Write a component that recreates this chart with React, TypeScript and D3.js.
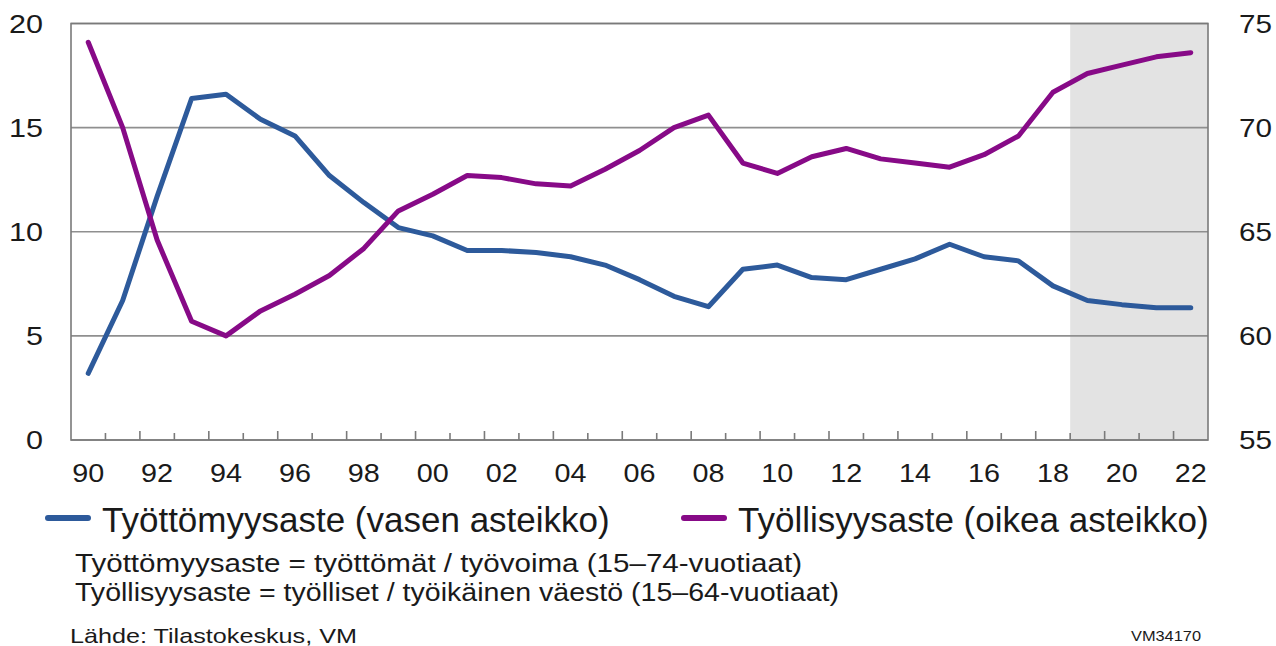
import { useEffect, useRef } from "react";
import * as d3 from "d3";

// vuodet ja sarjat luettu kuvasta
const years = [
  1990, 1991, 1992, 1993, 1994, 1995, 1996, 1997, 1998, 1999, 2000, 2001, 2002,
  2003, 2004, 2005, 2006, 2007, 2008, 2009, 2010, 2011, 2012, 2013, 2014, 2015,
  2016, 2017, 2018, 2019, 2020, 2021, 2022,
];
const unemployment = [
  3.2, 6.7, 11.7, 16.4, 16.6, 15.4, 14.6, 12.7, 11.4, 10.2, 9.8, 9.1, 9.1, 9.0,
  8.8, 8.4, 7.7, 6.9, 6.4, 8.2, 8.4, 7.8, 7.7, 8.2, 8.7, 9.4, 8.8, 8.6, 7.4, 6.7,
  6.5, 6.35, 6.35,
];
const employment = [
  74.1, 70.0, 64.6, 60.7, 60.0, 61.2, 62.0, 62.9, 64.2, 66.0, 66.8, 67.7, 67.6,
  67.3, 67.2, 68.0, 68.9, 70.0, 70.6, 68.3, 67.8, 68.6, 69.0, 68.5, 68.3, 68.1,
  68.7, 69.6, 71.7, 72.6, 73.0, 73.4, 73.6,
];
const forecastFrom = 2019;
const leftTicks = [0, 5, 10, 15, 20];
const rightTicks = [55, 60, 65, 70, 75];
const xLabelYears = years.filter((y) => y % 2 === 0);

const seriesNames = [
  "Työttömyysaste (vasen asteikko)",
  "Työllisyysaste (oikea asteikko)",
];
const notes = [
  "Työttömyysaste = työttömät / työvoima (15–74-vuotiaat)",
  "Työllisyysaste = työlliset / työikäinen väestö (15–64-vuotiaat)",
];
const source = "Lähde: Tilastokeskus, VM";
const code = "VM34170";

const BLUE = "#2d5a9b";
const PURPLE = "#870a87";
const GRID = "#8f8f8f";
const FONT = "'Liberation Sans', Arial, sans-serif";

const W = 1276;
const H = 646;
const plot = { left: 71, right: 1208, top: 23.5, bottom: 440 };

export default function App() {
  const ref = useRef<SVGSVGElement>(null);

  useEffect(() => {
    const svg = d3.select(ref.current);
    svg.selectAll("*").remove();

    const x = d3
      .scaleBand<number>()
      .domain(years)
      .range([plot.left, plot.right])
      .padding(0);
    const cx = (y: number) => (x(y) as number) + x.bandwidth() / 2;
    const yL = d3.scaleLinear().domain([0, 20]).range([plot.bottom, plot.top]);
    const yR = d3.scaleLinear().domain([55, 75]).range([plot.bottom, plot.top]);

    // ennusteen tausta
    svg
      .append("rect")
      .attr("x", x(forecastFrom) as number)
      .attr("y", plot.top)
      .attr("width", plot.right - (x(forecastFrom) as number))
      .attr("height", plot.bottom - plot.top)
      .attr("fill", "#e3e3e3");

    // vaakaviivat
    svg
      .append("g")
      .selectAll("line")
      .data(leftTicks)
      .join("line")
      .attr("x1", plot.left)
      .attr("x2", plot.right)
      .attr("y1", (d) => yL(d))
      .attr("y2", (d) => yL(d))
      .attr("stroke", GRID)
      .attr("stroke-width", 1.6);

    // reunat
    svg
      .append("rect")
      .attr("x", plot.left)
      .attr("y", plot.top)
      .attr("width", plot.right - plot.left)
      .attr("height", plot.bottom - plot.top)
      .attr("fill", "none")
      .attr("stroke", "#7a7a7a")
      .attr("stroke-width", 1.6);

    // x-akselin pykälät vuosien välissä
    svg
      .append("g")
      .selectAll("line")
      .data(years.slice(1))
      .join("line")
      .attr("x1", (d) => x(d) as number)
      .attr("x2", (d) => x(d) as number)
      .attr("y1", plot.bottom)
      .attr("y2", (d) => plot.bottom - (d % 2 === 0 ? 9 : 7))
      .attr("stroke", "#7a7a7a")
      .attr("stroke-width", 1.6);

    const tickText = svg
      .append("g")
      .attr("font-family", FONT)
      .attr("font-size", 25)
      .attr("fill", "#1a1a1a");

    tickText
      .selectAll("text.l")
      .data(leftTicks)
      .join("text")
      .attr("class", "l")
      .attr("x", 43)
      .attr("y", (d) => yL(d))
      .attr("dy", "0.36em")
      .attr("text-anchor", "end")
      .attr("textLength", (d) => String(d).length * 17)
      .attr("lengthAdjust", "spacingAndGlyphs")
      .text((d) => d);

    tickText
      .selectAll("text.r")
      .data(rightTicks)
      .join("text")
      .attr("class", "r")
      .attr("x", 1239)
      .attr("y", (d) => yR(d))
      .attr("dy", "0.36em")
      .attr("textLength", 33)
      .attr("lengthAdjust", "spacingAndGlyphs")
      .text((d) => d);

    tickText
      .selectAll("text.x")
      .data(xLabelYears)
      .join("text")
      .attr("class", "x")
      .attr("x", (d) => cx(d) - 16)
      .attr("y", 482)
      .attr("textLength", 32)
      .attr("lengthAdjust", "spacingAndGlyphs")
      .text((d) => String(d).slice(2));

    const line = d3
      .line<[number, number]>()
      .x((d) => d[0])
      .y((d) => d[1]);

    svg
      .append("path")
      .attr(
        "d",
        line(years.map((yr, i) => [cx(yr), yL(unemployment[i])]))
      )
      .attr("fill", "none")
      .attr("stroke", BLUE)
      .attr("stroke-width", 5)
      .attr("stroke-linejoin", "round")
      .attr("stroke-linecap", "round");

    svg
      .append("path")
      .attr("d", line(years.map((yr, i) => [cx(yr), yR(employment[i])])))
      .attr("fill", "none")
      .attr("stroke", PURPLE)
      .attr("stroke-width", 5)
      .attr("stroke-linejoin", "round")
      .attr("stroke-linecap", "round");

    // selite
    const legend = [
      { name: seriesNames[0], color: BLUE, x: 48 },
      { name: seriesNames[1], color: PURPLE, x: 684 },
    ];
    const lg = svg.append("g").attr("font-family", FONT);
    legend.forEach((l) => {
      lg.append("line")
        .attr("x1", l.x)
        .attr("x2", l.x + 40)
        .attr("y1", 518)
        .attr("y2", 518)
        .attr("stroke", l.color)
        .attr("stroke-width", 6)
        .attr("stroke-linecap", "round");
      lg.append("text")
        .attr("x", l.x + 54)
        .attr("y", 532)
        .attr("font-size", 35)
        .attr("fill", "#1a1a1a")
        .text(l.name);
    });

    const nt = svg
      .append("g")
      .attr("font-family", FONT)
      .attr("fill", "#1a1a1a");
    const noteWidths = [727, 764];
    nt.selectAll("text")
      .data(notes)
      .join("text")
      .attr("x", 75)
      .attr("y", (_, i) => 572 + i * 29)
      .attr("font-size", 25)
      .attr("textLength", (_, i) => noteWidths[i])
      .attr("lengthAdjust", "spacingAndGlyphs")
      .text((d) => d);

    nt.append("text")
      .attr("x", 70)
      .attr("y", 643)
      .attr("font-size", 21)
      .attr("textLength", 287)
      .attr("lengthAdjust", "spacingAndGlyphs")
      .text(source);

    nt.append("text")
      .attr("x", 1131)
      .attr("y", 641)
      .attr("font-size", 14)
      .attr("textLength", 70)
      .attr("lengthAdjust", "spacingAndGlyphs")
      .text(code);
  }, []);

  return (
    <div style={{ position: "absolute", left: 0, top: 0 }}>
      <svg ref={ref} width={W} height={H} style={{ display: "block", background: "#fff" }} />
    </div>
  );
}
